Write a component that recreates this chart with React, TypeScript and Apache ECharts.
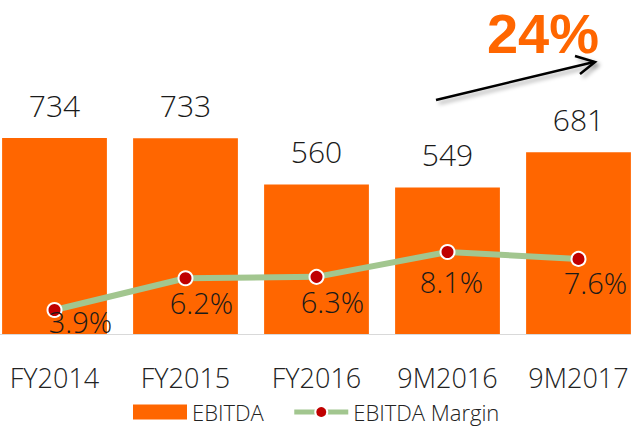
import React, { useEffect, useRef } from "react";
import * as echarts from "echarts";

const categories = ["FY2014", "FY2015", "FY2016", "9M2016", "9M2017"];
const ebitda = [734, 733, 560, 549, 681];
const margin = [3.9, 6.2, 6.3, 8.1, 7.6];
const marginLabelOffsets = [[26, -17], [16, -4], [16, -4], [4, 1], [17, -5]];

const FONT = "'Open Sans', 'Noto Sans', sans-serif";
const SHIFT = 11;

export default function App() {
  const ref = useRef<HTMLDivElement>(null);
  useEffect(() => {
    document.body.style.margin = "0";
    const chart = echarts.init(ref.current!, null, { renderer: "svg" });
    chart.setOption({
      animation: false,
      textStyle: { fontFamily: FONT },
      grid: { left: 0, right: 0, top: 67, bottom: 94, containLabel: false },
      legend: {
        top: 396,
        left: 128 + SHIFT,
        itemWidth: 54,
        itemHeight: 15,
        itemGap: 28,
        textStyle: { fontSize: 22, color: "#222", fontFamily: FONT, fontWeight: 300 },
        data: [
          { name: "EBITDA", icon: "rect" },
          { name: "EBITDA Margin", lineStyle: { width: 5, color: "#A2C68F" } },
        ],
      },
      xAxis: {
        type: "category",
        data: categories,
        axisLine: { lineStyle: { color: "#d9d9d9", width: 1 } },
        axisTick: { show: false },
        axisLabel: { fontSize: 27, color: "#222", margin: 30, interval: 0, fontFamily: FONT, fontWeight: 300 },
      },
      yAxis: [
        { type: "value", min: 0, max: 1000, show: false, splitLine: { show: false } },
        { type: "value", min: 2.16, max: 21.5, show: false, splitLine: { show: false } },
      ],
      series: [
        {
          name: "EBITDA",
          type: "bar",
          data: ebitda,
          barCategoryGap: "20%",
          itemStyle: { color: "#FF6600" },
          label: {
            show: true,
            position: "top",
            distance: 18,
            fontSize: 30,
            color: "#1a1a1a",
            fontFamily: FONT,
            fontWeight: 300,
          },
        },
        {
          name: "EBITDA Margin",
          type: "line",
          yAxisIndex: 1,
          data: margin.map((v, i) => ({
            value: v,
            label: { offset: marginLabelOffsets[i] },
          })),
          symbol: "circle",
          symbolSize: 14,
          lineStyle: { color: "#A2C68F", width: 6 },
          itemStyle: { color: "#C00000", borderColor: "#fff", borderWidth: 2 },
          label: {
            show: true,
            position: "bottom",
            distance: 6,
            fontSize: 29,
            color: "#1a1a1a",
            fontFamily: FONT,
            fontWeight: 300,
            formatter: (p: any) => p.value.toFixed(1) + "%",
          },
          z: 3,
        },
      ],
      graphic: [
        {
          type: "text",
          x: 543 + SHIFT,
          y: 33,
          style: {
            text: "24%",
            fill: "#FF6600",
            font: "bold 56px 'Liberation Sans', Arial, sans-serif",
            align: "center",
            verticalAlign: "middle",
          },
        },
        {
          type: "line",
          shape: { x1: 436 + SHIFT, y1: 100, x2: 594 + SHIFT, y2: 62 },
          style: {
            stroke: "#000",
            lineWidth: 2.5,
            shadowBlur: 4,
            shadowColor: "rgba(0,0,0,0.35)",
            shadowOffsetX: 3,
            shadowOffsetY: 3,
          },
        },
        {
          type: "polyline",
          shape: { points: [[575 + SHIFT, 56], [595 + SHIFT, 62], [580 + SHIFT, 74]] },
          style: {
            stroke: "#000",
            lineWidth: 2.5,
            fill: null,
            shadowBlur: 4,
            shadowColor: "rgba(0,0,0,0.35)",
            shadowOffsetX: 3,
            shadowOffsetY: 3,
          },
        },
      ],
    });
    return () => chart.dispose();
  }, []);
  return (
    <div style={{ width: 631, height: 428, overflow: "hidden", position: "relative" }}>
      <div ref={ref} style={{ width: 655, height: 428, position: "absolute", left: -SHIFT, top: 0 }} />
    </div>
  );
}
